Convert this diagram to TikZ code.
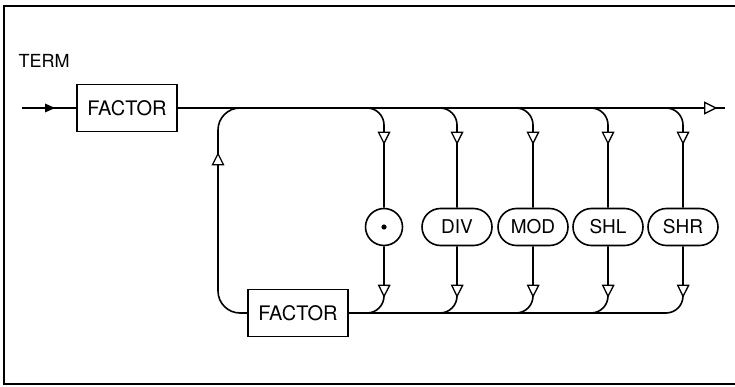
\documentclass[tikz,border=0pt]{standalone}
\usepackage{fontspec}
\setmainfont{TeX Gyre Heros}
\usetikzlibrary{decorations.markings,shapes.misc}
\begin{document}
\begin{tikzpicture}[x=1pt,y=-1pt,line width=1.6pt,
  lbl/.style={font=\fontsize{18}{21}\selectfont},
  box/.style={draw,rectangle,minimum width=100pt,minimum height=47pt,inner sep=0pt,font=\fontsize{20}{23}\selectfont},
  op/.style={draw,rounded rectangle,minimum width=70pt,minimum height=37pt,inner sep=0pt,font=\fontsize{19}{22}\selectfont},
  opc/.style={draw,circle,minimum size=37pt,inner sep=0pt},
  arr/.style={postaction={decorate},decoration={markings,mark=at position #1 with {\draw[sharp corners,fill=white,line width=1.3pt,line join=miter] (-11pt,-5.5pt) -- (0pt,0pt) -- (-11pt,5.5pt) -- cycle;}}},
  farr/.style={postaction={decorate},decoration={markings,mark=at position #1 with {\fill[sharp corners] (-10pt,-4.5pt) -- (0pt,0pt) -- (-10pt,4.5pt) -- cycle;}}},
  branch/.style={rounded corners=17pt}]
\useasboundingbox (0,0) rectangle (735,387);
% frame
\draw[line width=2.4pt] (735,6) -- (4,6) -- (4,384) -- (735,384);
% nodes
\node[lbl] (term) at (44,61) {TERM};
\node[box] (f1) at (127,108) {FACTOR};
\node[box] (f2) at (298,313) {FACTOR};
\node[opc] (mul) at (384,227) {};
\fill (mul.center) circle (2.6pt);
\node[op] (div) at (457,227) {DIV};
\node[op] (mod) at (533,227) {MOD};
\node[op] (shl) at (608,227) {SHL};
\node[op] (shr) at (683,227) {SHR};
\coordinate (start) at (22,108);
\coordinate (end) at (725,108);
% main line
\draw[farr=33pt] (start) -- (f1.west);
\draw[arr=538pt] (f1.east) -- (end);
% loop back
\draw[rounded corners=22pt,arr=179pt] (f2.west) -- (218,313) -- (218,108) -- (246,108);
% branches
\foreach \n in {mul,div,mod,shl,shr}{
  \draw[branch,arr=50pt] ([xshift=-22pt]\n.north |- f1.east) -| (\n.north);
  \draw[branch,arr=50pt] (\n.south) |- ([xshift=-22pt]\n.south |- f2.east);
}
\draw (f2.east) -- ([xshift=-20pt]shr.south |- f2.east);
\end{tikzpicture}
\end{document}
